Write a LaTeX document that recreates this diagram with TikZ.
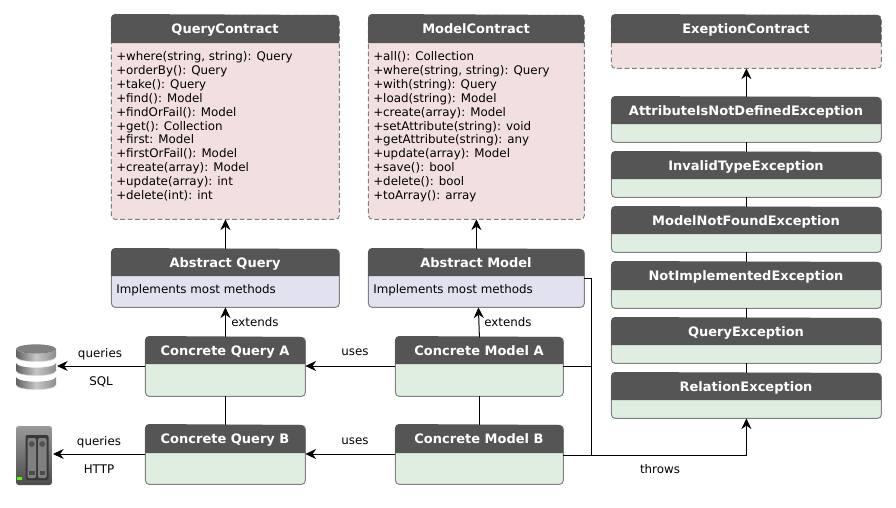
\documentclass[tikz,border=0pt]{standalone}
\usepackage{fontspec}
\setmainfont{DejaVu Sans}
\usetikzlibrary{arrows.meta,calc,positioning}
\definecolor{headc}{HTML}{555555}
\definecolor{pinkc}{HTML}{F1E0DF}
\definecolor{lilac}{HTML}{E1E1F0}
\definecolor{greenc}{HTML}{DFEEE0}
\definecolor{edgec}{HTML}{808080}
\tikzset{
  x=0.75pt,y=-0.75pt,
  umlbox/.style={draw=edgec,line width=0.75pt,rounded corners=3pt,inner sep=0pt,outer sep=0pt},
  dashbox/.style={umlbox,dash pattern=on 3.6pt off 2pt},
  title/.style={text=white,font=\fontsize{9.75pt}{11pt}\bfseries,inner sep=0pt,anchor=base},
  body/.style={font=\fontsize{8.9pt}{10.42pt}\selectfont,align=left,anchor=north west,inner sep=0pt,text=black},
  lbl/.style={font=\fontsize{8.9pt}{10.4pt}\selectfont,inner sep=0pt,text=black},
  conn/.style={draw=black,line width=0.75pt},
  arr/.style={conn,-{Stealth[length=8pt,width=7.5pt,inset=2.6pt]}},
}
% name, x1, y1, ymid, x2, y2, fill, style, title
\newcommand{\umlnode}[9]{%
  \node[#8,fill=#7,minimum width=#5*0.75pt-#2*0.75pt,minimum height=#6*0.75pt-#3*0.75pt,anchor=north west] (#1) at (#2+0.4,#3+0.4) {};
  \fill[headc] (#2,#4) -- (#2,#3+3) arc[start angle=180,end angle=90,radius=3pt] -- (#5-4,#3) arc[start angle=90,end angle=0,radius=3pt] -- (#5,#4) -- cycle;
  \node[title] (#1t) at ({(#2+#5)/2},{(#3+#4)/2+4.6}) {#9};
}
\begin{document}
\begin{tikzpicture}
\useasboundingbox (0,0) rectangle (896,507);
\fill[white] (0,0) rectangle (896,507);

\umlnode{qc}{111}{15}{43}{339}{219}{pinkc}{dashbox}{QueryContract}
\umlnode{mc}{368}{15}{43}{584}{219}{pinkc}{dashbox}{ModelContract}
\umlnode{ec}{611}{15}{43}{881}{68}{pinkc}{dashbox}{ExeptionContract}

\node[body] (qcb) at (116,51.3) {+where(string, string): Query\\+orderBy(): Query\\+take(): Query\\+find(): Model\\+findOrFail(): Model\\+get(): Collection\\+first: Model\\+firstOrFail(): Model\\+create(array): Model\\+update(array): int\\+delete(int): int};
\node[body] (mcb) at (373,51.3) {+all(): Collection\\+where(string, string): Query\\+with(string): Query\\+load(string): Model\\+create(array): Model\\+setAttribute(string): void\\+getAttribute(string): any\\+update(array): Model\\+save(): bool\\+delete(): bool\\+toArray(): array};

\umlnode{aq}{111}{249}{276}{339}{307}{lilac}{umlbox}{Abstract Query}
\umlnode{am}{368}{249}{276}{584}{307}{lilac}{umlbox}{Abstract Model}
\node[body] (aqb) at (116,284.3) {Implements most methods};
\node[body] (amb) at (373,284.3) {Implements most methods};

\umlnode{cqa}{145}{337}{364}{305}{396}{greenc}{umlbox}{Concrete Query A}
\umlnode{cqb}{145}{425}{453}{305}{484}{greenc}{umlbox}{Concrete Query B}
\umlnode{cma}{395}{337}{364}{563}{396}{greenc}{umlbox}{Concrete Model A}
\umlnode{cmb}{395}{425}{453}{563}{484}{greenc}{umlbox}{Concrete Model B}

\umlnode{e1}{611}{97}{124}{881}{142}{greenc}{umlbox}{AttributeIsNotDefinedException}
\umlnode{e2}{611}{152}{179}{881}{197}{greenc}{umlbox}{InvalidTypeException}
\umlnode{e3}{611}{207}{234}{881}{252}{greenc}{umlbox}{ModelNotFoundException}
\umlnode{e4}{611}{262}{290}{881}{308}{greenc}{umlbox}{NotImplementedException}
\umlnode{e5}{611}{318}{345}{881}{363}{greenc}{umlbox}{QueryException}
\umlnode{e6}{611}{373}{400}{881}{418}{greenc}{umlbox}{RelationException}

% connectors
\draw[arr] (aq.north) -- (qc.south);
\draw[arr] (am.north) -- (mc.south);
\draw[arr] (cqa.north) -- (aq.south);
\draw[arr] (cma.north) -- ($(am.south)+(2,0)$);
\draw[conn] (cqa.south) -- (cqb.north);
\draw[conn] (cma.south) -- (cmb.north);
\draw[arr] (e1.north) -- (ec.south);
\draw[conn] (e2.north) -- (e1.south);
\draw[conn] (e3.north) -- (e2.south);
\draw[conn] (e4.north) -- (e3.south);
\draw[conn] (e5.north) -- (e4.south);
\draw[conn] (e6.north) -- (e5.south);
\coordinate (jt) at (591,455);
\coordinate (ja) at (591,366);
\draw[conn] ($(am.north east)+(0,29)$) -| (jt);
\draw[conn] (cma.east |- ja) -- (ja);
\draw[arr] (cmb.east |- jt) -| (e6.south);
\draw[arr] (cma.west |- ja) -- (cqa.east |- ja);
\draw[arr] (cmb.west |- 0,454) -- (cqb.east |- 0,454);

% icons
\begin{scope}
  \foreach \yy in {371,357,343}{
    \shade[left color=black!62,right color=black!45,middle color=black!22] (16,\yy+6) arc[start angle=180,end angle=360,x radius=15pt,y radius=3.5pt] -- (56,\yy+14) arc[start angle=0,end angle=-180,x radius=15pt,y radius=3.5pt] -- cycle;
    \draw[black!12,line width=0.4pt] (16,\yy+14) arc[start angle=180,end angle=360,x radius=15pt,y radius=3.5pt];
  }
  \fill[black!50] (36,349) ellipse[x radius=15pt,y radius=3.5pt];
\end{scope}
\coordinate (db) at (57,366);
\draw[arr] (cqa.west |- db) -- (db);

\begin{scope}
  \shade[top color=black!40,bottom color=black!70,rounded corners=2pt] (16,426) rectangle (52,485);
  \fill[black!78,rounded corners=1.5pt] (25.5,435) rectangle (48.5,480);
  \foreach \xx in {27.5,38}{
    \fill[black!50,rounded corners=1pt] (\xx,438) rectangle (\xx+8.5,478);
    \fill[black!68] (\xx+4.25,444) circle[radius=2.2pt];
    \fill[black!70] (\xx+1.5,471) rectangle (\xx+7,475);
  }
  \fill[green!70!yellow] (17,477) rectangle (22,480);
\end{scope}
\coordinate (nas) at (53,454);
\draw[arr] (cqb.west |- nas) -- (nas);

% labels
\node[lbl] (l1) at (100,353.8) {queries};
\node[lbl] (l2) at (101,381.5) {SQL};
\node[lbl] (l3) at (99,441.8) {queries};
\node[lbl] (l4) at (99,469) {HTTP};
\node[lbl] (l5) at (355,352.5) {uses};
\node[lbl] (l6) at (355,441.5) {uses};
\node[lbl] (l7) at (255,322) {extends};
\node[lbl] (l8) at (508,322) {extends};
\node[lbl] (l9) at (660,469) {throws};
\end{tikzpicture}
\end{document}
